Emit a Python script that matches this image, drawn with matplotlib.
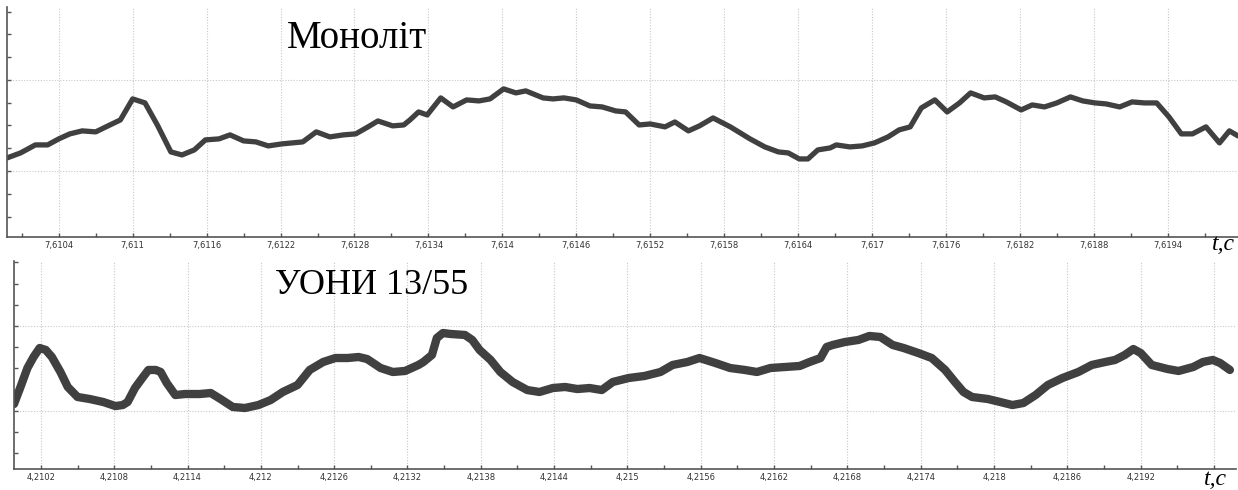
import matplotlib
matplotlib.use('Agg')
import matplotlib.pyplot as plt
from matplotlib.ticker import FixedLocator, MultipleLocator, FuncFormatter

# Моноліт: час, с / сигнал, відн. од.
t_mono = [7.60998, 7.61009, 7.61021, 7.61031, 7.61040, 7.61049, 7.61059, 7.61070,
          7.61080, 7.61090, 7.61100, 7.61110, 7.61120, 7.61131, 7.61140, 7.61150,
          7.61159, 7.61170, 7.61179, 7.61190, 7.61200, 7.61210, 7.61221, 7.61238,
          7.61249, 7.61260, 7.61271, 7.61281, 7.61291, 7.61299, 7.61311, 7.61320,
          7.61325, 7.61332, 7.61339, 7.61350, 7.61360, 7.61371, 7.61381, 7.61390,
          7.61401, 7.61411, 7.61419, 7.61433, 7.61441, 7.61450, 7.61460, 7.61471,
          7.61481, 7.61492, 7.61500, 7.61511, 7.61520, 7.61532, 7.61540, 7.61551,
          7.61560, 7.61571, 7.61585, 7.61601, 7.61613, 7.61624, 7.61632, 7.61641,
          7.61648, 7.61656, 7.61666, 7.61671, 7.61682, 7.61692, 7.61702, 7.61713,
          7.61722, 7.61731, 7.61740, 7.61751, 7.61761, 7.61771, 7.61780, 7.61791,
          7.61800, 7.61809, 7.61821, 7.61830, 7.61840, 7.61850, 7.61861, 7.61871,
          7.61881, 7.61890, 7.61901, 7.61911, 7.61921, 7.61931, 7.61941, 7.61951,
          7.61960, 7.61971, 7.61982, 7.61990, 7.61997]
y_mono = [1.143, 1.198, 1.286, 1.286, 1.352, 1.407, 1.440, 1.429,
          1.495, 1.560, 1.791, 1.747, 1.505, 1.209, 1.176, 1.231,
          1.341, 1.352, 1.396, 1.330, 1.319, 1.275, 1.297, 1.319,
          1.429, 1.374, 1.396, 1.407, 1.484, 1.549, 1.495, 1.505,
          1.560, 1.648, 1.615, 1.802, 1.703, 1.780, 1.769, 1.791,
          1.901, 1.857, 1.879, 1.802, 1.791, 1.802, 1.780, 1.714,
          1.703, 1.659, 1.648, 1.505, 1.516, 1.484, 1.538, 1.440,
          1.495, 1.582, 1.484, 1.352, 1.264, 1.209, 1.198, 1.132,
          1.132, 1.231, 1.253, 1.286, 1.264, 1.275, 1.308, 1.374,
          1.451, 1.484, 1.692, 1.780, 1.648, 1.747, 1.857, 1.802,
          1.813, 1.758, 1.670, 1.725, 1.703, 1.747, 1.813, 1.769,
          1.747, 1.736, 1.703, 1.758, 1.747, 1.747, 1.593, 1.407,
          1.407, 1.484, 1.308, 1.440, 1.385]

# УОНИ 13/55
t_uoni = [4.20998, 4.21003, 4.21009, 4.21014, 4.21019, 4.21024, 4.21029, 4.21036,
          4.21042, 4.21050, 4.21060, 4.21071, 4.21081, 4.21087, 4.21091, 4.21097,
          4.21103, 4.21108, 4.21114, 4.21118, 4.21123, 4.21130, 4.21138, 4.21150,
          4.21159, 4.21167, 4.21177, 4.21187, 4.21198, 4.21208, 4.21218, 4.21230,
          4.21240, 4.21251, 4.21261, 4.21271, 4.21280, 4.21287, 4.21298, 4.21308,
          4.21318, 4.21329, 4.21333, 4.21340, 4.21344, 4.21349, 4.21355, 4.21367,
          4.21373, 4.21379, 4.21388, 4.21396, 4.21406, 4.21418, 4.21428, 4.21439,
          4.21449, 4.21459, 4.21469, 4.21479, 4.21488, 4.21501, 4.21514, 4.21527,
          4.21537, 4.21549, 4.21559, 4.21572, 4.21584, 4.21596, 4.21606, 4.21617,
          4.21629, 4.21641, 4.21649, 4.21658, 4.21663, 4.21668, 4.21678, 4.21689,
          4.21698, 4.21707, 4.21717, 4.21726, 4.21738, 4.21749, 4.21760, 4.21768,
          4.21775, 4.21782, 4.21795, 4.21805, 4.21815, 4.21824, 4.21834, 4.21844,
          4.21856, 4.21869, 4.21880, 4.21891, 4.21899, 4.21907, 4.21914, 4.21920,
          4.21929, 4.21942, 4.21951, 4.21963, 4.21971, 4.21979, 4.21985, 4.21993]
y_uoni = [1.079, 1.268, 1.504, 1.634, 1.740, 1.717, 1.634, 1.457,
          1.280, 1.162, 1.138, 1.103, 1.055, 1.067, 1.103, 1.268,
          1.386, 1.481, 1.481, 1.457, 1.327, 1.185, 1.197, 1.197,
          1.209, 1.138, 1.044, 1.032, 1.067, 1.126, 1.221, 1.303,
          1.481, 1.575, 1.622, 1.622, 1.634, 1.610, 1.504, 1.457,
          1.469, 1.540, 1.575, 1.658, 1.858, 1.917, 1.906, 1.894,
          1.835, 1.717, 1.599, 1.457, 1.339, 1.244, 1.221, 1.268,
          1.280, 1.256, 1.268, 1.244, 1.339, 1.386, 1.410, 1.457,
          1.540, 1.575, 1.622, 1.563, 1.504, 1.481, 1.457, 1.504,
          1.516, 1.528, 1.575, 1.622, 1.752, 1.776, 1.811, 1.835,
          1.882, 1.870, 1.776, 1.740, 1.681, 1.622, 1.481, 1.339,
          1.221, 1.162, 1.138, 1.103, 1.067, 1.091, 1.185, 1.303,
          1.386, 1.457, 1.540, 1.575, 1.599, 1.658, 1.728, 1.681,
          1.540, 1.492, 1.469, 1.516, 1.575, 1.599, 1.563, 1.481]

ticks_mono = [7.6104, 7.6110, 7.6116, 7.6122, 7.6128, 7.6134, 7.6140, 7.6146,
              7.6152, 7.6158, 7.6164, 7.6170, 7.6176, 7.6182, 7.6188, 7.6194]
ticks_uoni = [4.2102, 4.2108, 4.2114, 4.2120, 4.2126, 4.2132, 4.2138, 4.2144,
              4.2150, 4.2156, 4.2162, 4.2168, 4.2174, 4.2180, 4.2186, 4.2192, 4.2198]

line_color = '#404040'
serif = ['Liberation Serif', 'DejaVu Serif']


def comma_fmt(last_hidden=None):
    def fmt(v, pos):
        if last_hidden is not None and abs(v - last_hidden) < 1e-7:
            return ''
        return f'{v:.4f}'.rstrip('0').replace('.', ',')
    return FuncFormatter(fmt)


def style_axes(ax, ticks, xlim, ylim, hide=None):
    ax.set_xlim(*xlim)
    ax.set_ylim(*ylim)
    for s in ['top', 'right']:
        ax.spines[s].set_visible(False)
    for s in ['left', 'bottom']:
        ax.spines[s].set_color('#555555')
        ax.spines[s].set_linewidth(1.2)
    ax.xaxis.set_major_locator(FixedLocator(ticks))
    ax.xaxis.set_minor_locator(FixedLocator([v + 0.0003 for v in ticks] + [ticks[0] - 0.0003]))
    ax.xaxis.set_major_formatter(comma_fmt(hide))
    ax.yaxis.set_major_locator(FixedLocator([1.0, 2.0]))
    ax.yaxis.set_minor_locator(MultipleLocator(0.25))
    ax.set_yticklabels([])
    ax.tick_params(axis='x', which='both', direction='in', length=3, width=1,
                   color='#555555', labelsize=6, labelcolor='#333333', pad=3)
    ax.tick_params(axis='y', which='both', direction='in', length=3, width=1,
                   color='#555555')
    ax.grid(True, which='major', color='#c8c8c8', linestyle=(0, (1, 1.5)), linewidth=0.8)
    ax.set_axisbelow(True)


fig = plt.figure(figsize=(12.38, 4.90), dpi=100)

ax1 = fig.add_axes([7 / 1238, 1 - 237 / 490, 1231 / 1238, 230 / 490])
ax1.plot(t_mono, y_mono, color=line_color, lw=3.8, solid_joinstyle='round',
         solid_capstyle='round')
style_axes(ax1, ticks_mono, (7.60998, 7.61997), (0.275, 2.80))
fig.text(357 / 1238, 1 - 39 / 490, 'Моноліт',
         family=serif, fontsize=28, ha='center', va='center')
fig.text(1223 / 1238, 1 - 244 / 490, 't,с', family=serif,
         fontsize=17, ha='center', va='center', style='italic')

ax2 = fig.add_axes([14 / 1238, 1 - 469 / 490, 1222 / 1238, 208 / 490])
ax2.plot(t_uoni, y_uoni, color=line_color, lw=6.0, solid_joinstyle='round',
         solid_capstyle='round')
style_axes(ax2, ticks_uoni, (4.20998, 4.21998), (0.312, 2.767), hide=4.2198)
fig.text(372 / 1238, 1 - 286 / 490, 'УОНИ 13/55',
         family=serif, fontsize=26, ha='center', va='center')
fig.text(1215 / 1238, 1 - 479 / 490, 't,с', family=serif,
         fontsize=17, ha='center', va='center', style='italic')

fig.savefig('out.png', dpi=100)
